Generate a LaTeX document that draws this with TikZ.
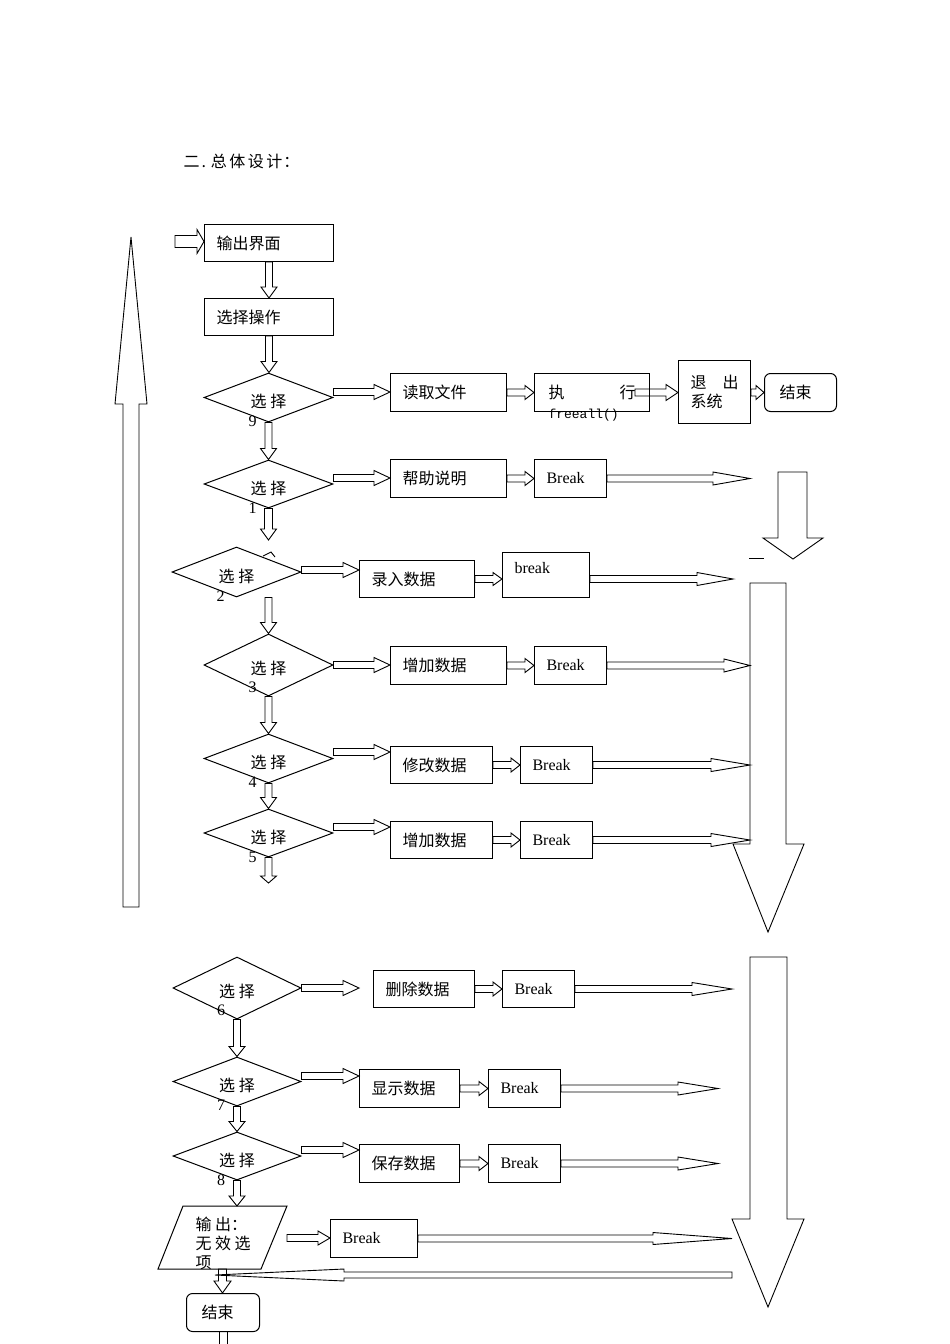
\documentclass[tikz,border=0pt]{standalone}
\usepackage{fontspec}
\setmainfont{Liberation Serif}
\newfontfamily\cjk{Noto Sans CJK SC}
\newfontfamily\monof{Liberation Mono}
\usetikzlibrary{shapes.geometric,calc}
\newcommand\cj{\cjk\fontsize{16}{19}\selectfont}
\newcommand\lat{\fontsize{16}{19}\selectfont}
% block arrows: #1 from, #2 to, #3 shaft half width, #4 head half width, #5 head length
\newcommand\blkR[5]{\draw[blk] let \p1=(#1), \p2=(#2) in
  (\x1,\y1+#3pt) -- (\x2-#5pt,\y1+#3pt) -- (\x2-#5pt,\y1+#4pt) -- (\x2,\y1)
  -- (\x2-#5pt,\y1-#4pt) -- (\x2-#5pt,\y1-#3pt) -- (\x1,\y1-#3pt) -- cycle;}
\newcommand\blkL[5]{\draw[blk] let \p1=(#1), \p2=(#2) in
  (\x1,\y1+#3pt) -- (\x2+#5pt,\y1+#3pt) -- (\x2+#5pt,\y1+#4pt) -- (\x2,\y1)
  -- (\x2+#5pt,\y1-#4pt) -- (\x2+#5pt,\y1-#3pt) -- (\x1,\y1-#3pt) -- cycle;}
\newcommand\blkD[5]{\draw[blk] let \p1=(#1), \p2=(#2) in
  (\x1+#3pt,\y1) -- (\x1+#3pt,\y2+#5pt) -- (\x1+#4pt,\y2+#5pt) -- (\x1,\y2)
  -- (\x1-#4pt,\y2+#5pt) -- (\x1-#3pt,\y2+#5pt) -- (\x1-#3pt,\y1) -- cycle;}
\begin{document}
\begin{tikzpicture}[x=1pt,y=-1pt,line width=1pt,
  bx/.style={draw, anchor=north west, inner xsep=12pt, inner ysep=0pt, align=left, text width=#1, font=\cj},
  rbx/.style={bx=#1, rounded corners=6pt},
  ebx/.style={draw, anchor=north west, inner sep=0pt},
  dia/.style={draw, diamond, inner sep=0pt},
  dlab/.style={label={[font=\cj, yshift=-4pt]center:选 择}, label={[font=\lat, xshift=-16pt, yshift=-24pt]center:#1}},
  dlabB/.style={label={[font=\cj, yshift=-3pt]center:选 择}, label={[font=\lat, xshift=-16pt, yshift=-22pt]center:#1}},
  blk/.style={draw, line width=0.9pt, line join=miter},
  shp/.style={draw, line width=0.9pt, line join=miter}]
\useasboundingbox (0,0) rectangle (950,1344);

% title
\node[anchor=west, inner sep=0pt, font=\cj] (title) at (183,161)
  {二\hspace{2pt}.\hspace{5pt}总\hspace{2.5pt}体\hspace{2.5pt}设\hspace{2.5pt}计\hspace{1pt}：};

% big decorative arrows
\draw[shp] (123,907) -- (139,907) -- (139,404) -- (147,404) -- (131,237) -- (115,404) -- (123,404) -- cycle;
\draw[shp] (778,472) -- (807,472) -- (807,538) -- (823,538) -- (793,559) -- (763,538) -- (778,538) -- cycle;
\draw[shp] (749,558) -- (764,558);
\draw[shp] (750,583) -- (786,583) -- (786,844) -- (804,844) -- (768,932) -- (733,844) -- (750,844) -- cycle;
\draw[shp] (750,957) -- (787,957) -- (787,1219) -- (804,1219) -- (768,1307) -- (732,1219) -- (750,1219) -- cycle;
\draw[shp] (263,556) -- (271,552) -- (275,557);

% upper column
\node[bx=105pt, minimum height=37pt] (out) at (204,224) {输出界面};
\node[bx=105pt, minimum height=37pt] (sel) at (204,298) {选择操作};
\node[dia, minimum width=129pt, minimum height=49pt, dlab=9] (d9) at (268.5,397.5) {};
\node[bx=92pt, minimum height=38pt] (read) at (390,373) {读取文件};
\node[bx=87pt, inner xsep=14pt, minimum height=38pt,
  label={[font=\monof\fontsize{13}{16}\selectfont, anchor=west, inner sep=0pt, xshift=14pt, yshift=-3pt]south west:freeall()}] (exe) at (534,373) {执\hfill 行};
\node[bx=48pt, minimum height=63pt] (quit) at (678,360) {退\hspace{16pt}出\\系统};
\node[rbx=42pt, inner xsep=15pt, minimum height=38pt] (end1) at (764,373) {结束};

\node[dia, minimum width=129pt, minimum height=48pt, dlab=1] (d1) at (268.5,484) {};
\node[bx=92pt, minimum height=38pt] (help) at (390,459) {帮助说明};
\node[bx=48pt, font=\lat, minimum height=38pt] (b1) at (534,459) {Break};

\node[dia, minimum width=129pt, minimum height=50pt, dlab=2] (d2) at (236.5,572) {};
\node[bx=91pt, minimum height=37pt] (input) at (359,560) {录入数据};
\node[ebx, minimum width=87pt, minimum height=45pt,
  label={[font=\lat, anchor=west, inner sep=0pt, xshift=12pt, yshift=6.5pt]west:break}] (b2) at (502,552) {};

\node[dia, minimum width=129pt, minimum height=62pt, dlabB=3] (d3) at (268.5,665) {};
\node[bx=92pt, minimum height=38pt] (add1) at (390,646) {增加数据};
\node[bx=48pt, font=\lat, minimum height=38pt] (b3) at (534,646) {Break};

\node[dia, minimum width=129pt, minimum height=49pt, dlab=4] (d4) at (268.5,758.5) {};
\node[bx=78pt, minimum height=37pt] (mod) at (390,746) {修改数据};
\node[bx=48pt, font=\lat, minimum height=37pt] (b4) at (520,746) {Break};

\node[dia, minimum width=129pt, minimum height=48pt, dlab=5] (d5) at (268.5,833) {};
\node[bx=78pt, minimum height=37pt] (add2) at (390,821) {增加数据};
\node[bx=48pt, font=\lat, minimum height=37pt] (b5) at (520,821) {Break};

% lower column
\node[dia, minimum width=128pt, minimum height=62pt, dlabB=6] (d6) at (237,988) {};
\node[bx=77pt, minimum height=37pt] (del) at (373,970) {删除数据};
\node[bx=48pt, font=\lat, minimum height=37pt] (b6) at (502,970) {Break};

\node[dia, minimum width=128pt, minimum height=49pt, dlab=7] (d7) at (237,1081.5) {};
\node[bx=76pt, minimum height=38pt] (show) at (359,1069) {显示数据};
\node[bx=48pt, font=\lat, minimum height=38pt] (b7) at (488,1069) {Break};

\node[dia, minimum width=128pt, minimum height=48pt, dlab=8] (d8) at (237,1156) {};
\node[bx=76pt, minimum height=38pt] (save) at (359,1144) {保存数据};
\node[bx=48pt, font=\lat, minimum height=38pt] (b8) at (488,1144) {Break};

\draw (183,1206) -- (287,1206) -- (261,1269) -- (158,1269) -- cycle;
\node[anchor=west, inner sep=0pt, align=left, font=\cj] (ptext) at (195,1243) {输 出：\\无 效 选\\项};
\node[bx=63pt, font=\lat, minimum height=38pt] (b9) at (330,1219) {Break};
\node[rbx=43pt, inner xsep=15pt, minimum height=38pt] (end2) at (186,1293) {结束};

% free ends
\coordinate (ein) at (175,241.5);
\coordinate (c1) at (268.5,540);
\coordinate (c5) at (268.5,883);
\coordinate (c6) at (359,989);
\coordinate (ptop) at (237,1206);
\coordinate (pbot) at (222.5,1269);
\coordinate (pr) at (287,1238);
\coordinate (t1) at (750,478);
\coordinate (t2) at (733,578);
\coordinate (t3) at (750,665);
\coordinate (t4) at (750,765);
\coordinate (t5) at (750,840);
\coordinate (t6) at (732,989);
\coordinate (t7) at (718,1088);
\coordinate (t8) at (718,1163);
\coordinate (t9) at (732,1238);
\coordinate (bk) at (732,1275);
\coordinate (bt) at (215,1275);

% vertical arrows
\blkD{out.south}{sel.north}{3.5}{8}{11}
\blkD{sel.south}{d9.north}{3.5}{8}{11}
\blkD{d9.south}{d1.north}{3.5}{8}{11}
\blkD{d1.south}{c1}{4}{8}{11}
\blkD{d2.south -| d3.north}{d3.north}{3.5}{8}{11}
\blkD{d3.south}{d4.north}{3.5}{8}{11}
\blkD{d4.south}{d5.north}{3.5}{8}{11}
\blkD{d5.south}{c5}{3.5}{8}{7}
\blkD{d6.south}{d7.north}{3.5}{8}{10}
\blkD{d7.south}{d8.north}{3.5}{8}{10}
\blkD{d8.south}{ptop}{3.5}{8}{10}
\blkD{pbot}{end2.north}{4}{8.5}{12}
\draw ([xshift=-4pt]end2.south) -- ++(0,13);
\draw ([xshift=4pt]end2.south) -- ++(0,13);

% horizontal arrows
\blkR{ein}{out.west}{6}{12}{7}
\blkR{[yshift=5.5pt]d9.east}{read.west}{3.5}{7.5}{16}
\blkR{read.east}{exe.west}{3.5}{7}{9}
\blkR{[xshift=-15pt]exe.east}{quit.west}{3.5}{8}{12}
\blkR{[yshift=-0.5pt]quit.east}{end1.west}{3.5}{7}{8}

\blkR{[yshift=6pt]d1.east}{help.west}{3.5}{7.5}{16}
\blkR{help.east}{b1.west}{3.5}{7}{9}
\blkR{b1.east}{t1}{3.5}{6.5}{37}

\blkR{[yshift=2pt]d2.east}{input.west}{3.5}{7.5}{16}
\blkR{input.east}{b2.west}{3.5}{6.5}{9}
\blkR{[yshift=-4pt]b2.east}{t2}{3.5}{6.5}{36}

\blkR{d3.east}{add1.west}{3.5}{7.5}{16}
\blkR{add1.east}{b3.west}{3.5}{7}{9}
\blkR{b3.east}{t3}{3.5}{6.5}{26}

\blkR{[yshift=6.5pt]d4.east}{mod.west}{3.5}{7.5}{16}
\blkR{mod.east}{b4.west}{3.5}{7}{9}
\blkR{b4.east}{t4}{3.5}{6.5}{39}

\blkR{[yshift=6pt]d5.east}{add2.west}{3.5}{7.5}{16}
\blkR{add2.east}{b5.west}{3.5}{7}{9}
\blkR{b5.east}{t5}{3.5}{6.5}{39}

\blkR{d6.east}{c6}{3.5}{7.5}{16}
\blkR{del.east}{b6.west}{3.5}{7}{9}
\blkR{b6.east}{t6}{3.5}{6.5}{40}

\blkR{[yshift=5.5pt]d7.east}{show.west}{3.5}{7.5}{16}
\blkR{show.east}{b7.west}{3.5}{7}{9}
\blkR{b7.east}{t7}{3.5}{6.5}{40}

\blkR{[yshift=6pt]d8.east}{save.west}{3.5}{7.5}{16}
\blkR{save.east}{b8.west}{3.5}{7}{9}
\blkR{b8.east}{t8}{3.5}{6.5}{40}

\blkR{pr}{b9.west}{3.5}{7}{12}
\blkR{b9.east}{t9}{3.5}{6}{79}
\blkL{bk}{bt}{3}{6}{129}
\end{tikzpicture}
\end{document}
